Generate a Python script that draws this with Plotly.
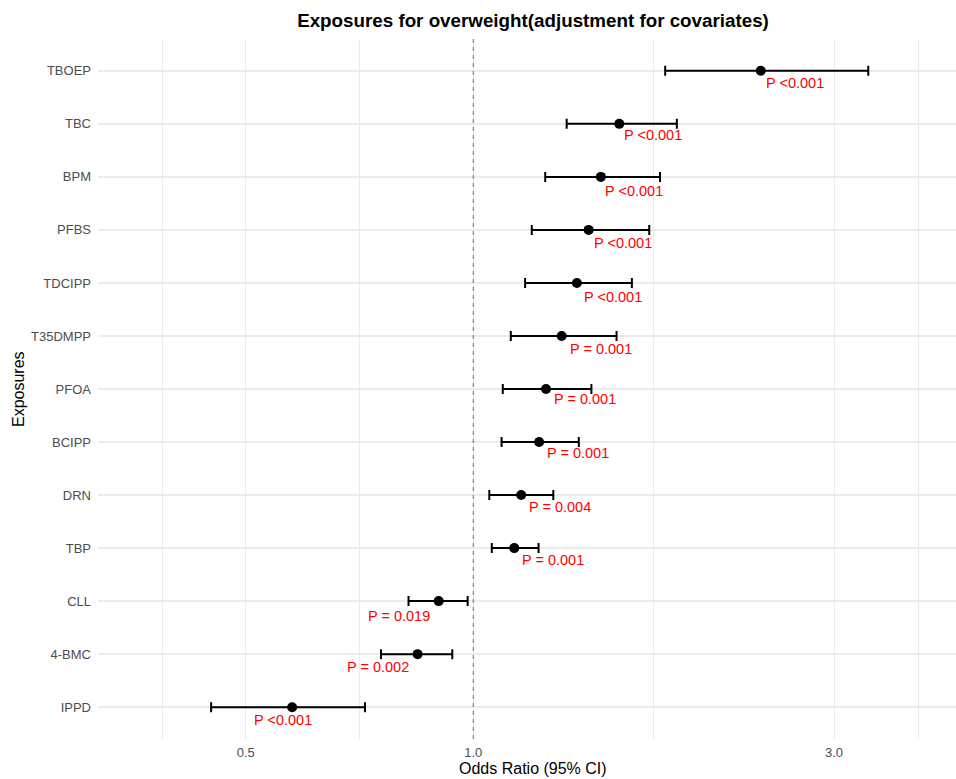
import math
import plotly.graph_objects as go

# Adjusted odds ratios (95% CI) for overweight, one row per exposure (top to bottom)
exposures = ["TBOEP", "TBC", "BPM", "PFBS", "TDCIPP", "T35DMPP", "PFOA",
             "BCIPP", "DRN", "TBP", "CLL", "4-BMC", "IPPD"]
odds_ratio = [2.40, 1.56, 1.475, 1.421, 1.371, 1.309, 1.248,
              1.222, 1.157, 1.133, 0.900, 0.844, 0.576]
ci_lower = [1.794, 1.329, 1.245, 1.195, 1.171, 1.121, 1.094,
            1.090, 1.050, 1.058, 0.821, 0.755, 0.450]
ci_upper = [3.33, 1.859, 1.766, 1.709, 1.621, 1.547, 1.433,
            1.379, 1.276, 1.220, 0.983, 0.938, 0.719]
p_labels = ["P <0.001", "P <0.001", "P <0.001", "P <0.001", "P <0.001",
            "P = 0.001", "P = 0.001", "P = 0.001", "P = 0.004", "P = 0.001",
            "P = 0.019", "P = 0.002", "P <0.001"]

x_ticks = [0.5, 1.0, 3.0]
x_tick_text = ["0.5", "1.0", "3.0"]
reference_or = 1.0

# label placement relative to each point (pixels)
label_anchor = ["left"] * 10 + ["right", "right", "center"]
label_dx = [3, 3, 2, 3, 5, 6, 6, 6, 6, 6, -7, -7, -9]
label_dy = [-12, -11, -14, -13, -14, -13, -10, -11, -12, -12, -15, -13, -13]

FONT = "Liberation Sans, Arial, Helvetica, sans-serif"
GRID = "#EBEBEB"
TICK_GREY = "#4D4D4D"

W, H = 956, 779
ML, MT, MB = 98, 39, 40
PLOT_H = H - MT - MB
PLOT_W = W - ML

fig = go.Figure()

# Null-effect reference line at OR = 1, spanning the full panel height
fig.add_trace(go.Scatter(
    x=[reference_or, reference_or], y=[0, 1],
    xaxis="x", yaxis="y2",
    mode="lines",
    line=dict(color="#808080", width=1.2, dash="4px,4px"),
    showlegend=False, hoverinfo="skip",
))

# Point estimates with 95% CI whiskers
fig.add_trace(go.Scatter(
    x=odds_ratio,
    y=exposures,
    mode="markers",
    marker=dict(color="black", size=10),
    error_x=dict(
        type="data",
        symmetric=False,
        array=[u - o for u, o in zip(ci_upper, odds_ratio)],
        arrayminus=[o - l for o, l in zip(odds_ratio, ci_lower)],
        color="black",
        thickness=2,
        width=5,
    ),
    showlegend=False,
    hoverinfo="skip",
))

# P-value labels next to each estimate (annotation x on a log axis is log10)
for name, orv, lab, anc, dx, dy in zip(exposures, odds_ratio, p_labels,
                                       label_anchor, label_dx, label_dy):
    fig.add_annotation(
        x=math.log10(orv), y=name, xref="x", yref="y",
        text=lab, showarrow=False,
        xanchor=anc, yanchor="middle",
        xshift=dx, yshift=dy,
        font=dict(family=FONT, size=14.5, color="#FF0000"),
    )

# Axis titles
fig.add_annotation(
    x=(533 - ML) / PLOT_W, y=-(768 - (H - MB)) / PLOT_H,
    xref="paper", yref="paper", showarrow=False,
    text="Odds Ratio (95% CI)", xanchor="center", yanchor="middle",
    font=dict(family=FONT, size=16, color="black"),
)
fig.add_annotation(
    x=(18 - ML) / PLOT_W, y=0.5,
    xref="paper", yref="paper", showarrow=False,
    text="Exposures", textangle=-90, xanchor="center", yanchor="middle",
    font=dict(family=FONT, size=16, color="black"),
)

fig.update_layout(
    width=W, height=H,
    margin=dict(l=ML, r=0, t=MT, b=MB),
    paper_bgcolor="white",
    plot_bgcolor="white",
    font=dict(family=FONT),
    title=dict(
        text="<b>Exposures for overweight(adjustment for covariates)</b>",
        x=533 / W, xref="container", xanchor="center",
        y=1 - 20 / H, yref="container", yanchor="middle",
        font=dict(family=FONT, size=18.8, color="black"),
    ),
    xaxis=dict(
        type="log",
        range=[-0.4964, 0.6385],
        tickmode="array", tickvals=x_ticks, ticktext=x_tick_text,
        tickfont=dict(family=FONT, size=13, color=TICK_GREY),
        showgrid=True, gridcolor=GRID, gridwidth=1.3,
        minor=dict(tickmode="array", tickvals=[0.3877, 0.7071, 1.732, 3.875],
                   showgrid=True, gridcolor=GRID, gridwidth=1, ticks=""),
        zeroline=False, showline=False, ticks="",
        ticklabelstandoff=4,
        fixedrange=True,
    ),
    yaxis=dict(
        categoryorder="array", categoryarray=exposures[::-1],
        range=[-0.6, len(exposures) - 0.4],
        tickfont=dict(family=FONT, size=13, color=TICK_GREY),
        showgrid=True, gridcolor=GRID, gridwidth=1.5,
        zeroline=False, showline=False, ticks="",
        ticklabelstandoff=6,
        fixedrange=True,
    ),
    yaxis2=dict(
        overlaying="y", range=[0, 1], visible=False,
        showgrid=False, zeroline=False, fixedrange=True,
    ),
)

fig.write_html("out.html")
